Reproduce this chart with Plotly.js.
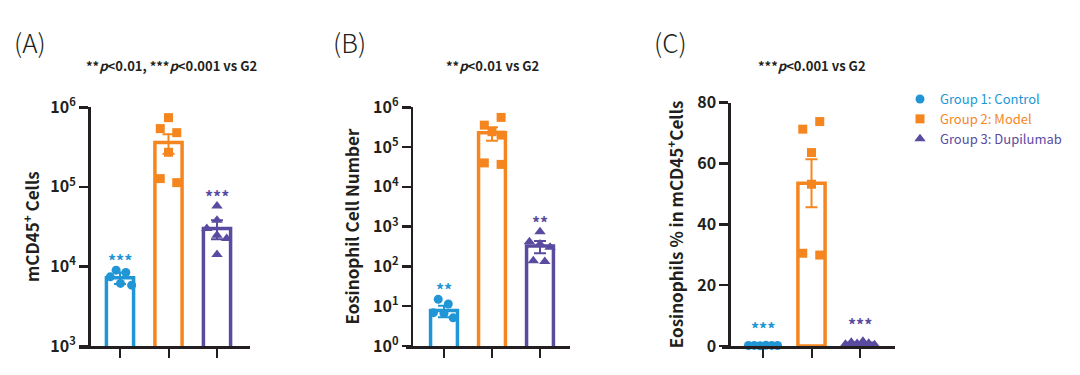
<!DOCTYPE html>
<html>
<head>
<meta charset="utf-8">
<script src="https://cdn.plot.ly/plotly-3.0.1.min.js"></script>
<style>html,body{margin:0;padding:0;background:#fff;}#chart{width:1080px;height:375px;}</style>
</head>
<body>
<div id="chart"></div>
<script>
// ---------- DATA ----------
const groupNames = ['Group 1: Control', 'Group 2: Model', 'Group 3: Dupilumab'];

// (A) mCD45+ cells
const cd45Means = [7200, 360000, 30000];
const cd45Sem   = [1200, 100000, 8000];
const cd45G1 = [8980, 8400, 7400, 6120, 5820];
const cd45G2 = [741000, 540000, 480000, 272000, 127000, 113000];
const cd45G3 = [57500, 38000, 30000, 24700, 22500, 14100];
const cd45Stars = ['***', '', '***'];

// (B) Eosinophil cell number
const eosMeans = [7.8, 229000, 325];
const eosSem   = [2.5, 85000, 110];
const eosG1 = [14.9, 11.4, 6.9, 6.6, 5.1];
const eosG2 = [557000, 356000, 243000, 200000, 40000, 36700];
const eosG3 = [745, 417, 365, 302, 138, 134];
const eosStars = ['**', '', '**'];

// (C) Eosinophils % in mCD45+ cells
const pctMeans = [0.2, 53.5, 0.9];
const pctSem   = [0.05, 7.9, 0.25];
const pctG1 = [0.15, 0.2, 0.1, 0.25, 0.2, 0.15];
const pctG2 = [73.8, 71.3, 63.6, 53.2, 30.5, 29.9];
const pctG3 = [0.6, 1.2, 0.8, 1.6, 0.9, 0.4];
const pctStars = ['***', '', '***'];

const logTickVals = [1, 10, 100, 1000, 10000, 100000, 1000000];
const logTickText = ['10<sup>0</sup>', '10<sup>1</sup>', '10<sup>2</sup>', '10<sup>3</sup>', '10<sup>4</sup>', '10<sup>5</sup>', '10<sup>6</sup>'];

// ---------- STYLE ----------
const W = 1080, H = 375;
const colors = ['#2196d6', '#f5861f', '#5a4ba0'];
const symbols = ['circle', 'square', 'triangle-up'];
const ink = '#231f20';
const FONT = '"Noto Sans CJK SC", "Noto Sans", sans-serif';

// horizontal spread of dots inside each group (layout only)
const jitter = {
  A: [[-0.08, 0.12, -0.2, 0.01, 0.24], [0, -0.17, 0.17, 0, -0.17, 0.17], [0, 0, -0.21, 0, 0.2, 0]],
  B: [[-0.12, 0.09, -0.22, 0, 0.19], [0.19, -0.16, 0, 0.19, -0.16, 0.19], [0, -0.22, 0, 0.21, -0.14, 0.1]],
  C: [[-0.3, -0.18, -0.06, 0.06, 0.18, 0.3], [0.17, -0.18, 0, 0, -0.18, 0.17], [-0.3, -0.18, -0.06, 0.06, 0.18, 0.3]]
};

const panels = [
  { key: 'A', letter: '(A)', title: '**<i>p</i>&lt;0.01, ***<i>p</i>&lt;0.001 vs G2',
    ytitle: 'mCD45<sup>+</sup> Cells', log: true, range: [3, 6],
    means: cd45Means, sem: cd45Sem, pts: [cd45G1, cd45G2, cd45G3], stars: cd45Stars,
    xL: 79.3, xR: 250, yAx: 89, t0: 120, sp: 48.5, yTop: 107.3, yBot: 346,
    letterX: 12, titleX: 171, starShift: 10, standoff: 5 },
  { key: 'B', letter: '(B)', title: '**<i>p</i>&lt;0.01 vs G2',
    ytitle: 'Eosinophil Cell Number', log: true, range: [0, 6],
    means: eosMeans, sem: eosSem, pts: [eosG1, eosG2, eosG3], stars: eosStars,
    xL: 406, xR: 570, yAx: 411.7, t0: 444, sp: 48, yTop: 107.3, yBot: 346,
    letterX: 331, titleX: 492, starShift: 10, standoff: 8 },
  { key: 'C', letter: '(C)', title: '***<i>p</i>&lt;0.001 vs G2',
    ytitle: 'Eosinophils % in mCD45<sup>+</sup>Cells', log: false, range: [0, 80],
    means: pctMeans, sem: pctSem, pts: [pctG1, pctG2, pctG3], stars: pctStars,
    xL: 722, xR: 895, yAx: 729.3, t0: 763, sp: 48.5, yTop: 102.7, yBot: 346,
    letterX: 652, titleX: 812, starShift: 17, standoff: 8 }
];

const traces = [];
const annotations = [];
const layout = {
  width: W, height: H,
  margin: { l: 0, r: 0, t: 0, b: 0 },
  paper_bgcolor: '#fff', plot_bgcolor: 'rgba(0,0,0,0)',
  font: { family: FONT, color: ink },
  showlegend: true,
  legend: { x: 900 / W, y: 1 - 84 / H, xanchor: 'left', yanchor: 'top',
            font: { size: 13, family: FONT }, tracegroupgap: 0, itemwidth: 30,
            bgcolor: 'rgba(0,0,0,0)' },
  annotations: annotations
};

panels.forEach((p, i) => {
  const n = i + 1;
  const xa = 'x' + (n === 1 ? '' : n), ya = 'y' + (n === 1 ? '' : n);
  const xk = 'xaxis' + (n === 1 ? '' : n), yk = 'yaxis' + (n === 1 ? '' : n);

  layout[xk] = {
    domain: [p.xL / W, p.xR / W],
    range: [(p.xL - p.t0) / p.sp, (p.xR - p.t0) / p.sp],
    anchor: ya, showgrid: false, zeroline: false,
    showline: true, linecolor: ink, linewidth: 2.5,
    tickmode: 'array', tickvals: [0, 1, 2], ticktext: ['', '', ''],
    ticks: 'outside', ticklen: 9, tickwidth: 2, tickcolor: ink,
    fixedrange: true
  };
  const yax = {
    domain: [1 - p.yBot / H, 1 - p.yTop / H],
    range: p.range, anchor: 'free', position: p.yAx / W,
    showgrid: false, zeroline: false,
    showline: true, linecolor: ink, linewidth: 2.5,
    ticks: 'outside', ticklen: 9, tickwidth: 2.5, tickcolor: ink,
    tickfont: { size: 16, family: FONT, color: ink, weight: 'bold' },
    title: { text: p.ytitle, font: { size: 17, family: FONT, color: ink, weight: 'bold' }, standoff: p.standoff },
    fixedrange: true
  };
  if (p.log) {
    yax.type = 'log';
    yax.tickmode = 'array';
    yax.tickvals = logTickVals;
    yax.ticktext = logTickText;
  } else {
    yax.type = 'linear';
    yax.tickmode = 'linear'; yax.tick0 = 0; yax.dtick = 20;
  }
  layout[yk] = yax;

  // bars
  for (let g = 0; g < 3; g++) {
    traces.push({
      type: 'bar', x: [g], y: [p.means[g]], width: 0.56,
      xaxis: xa, yaxis: ya, showlegend: false, hoverinfo: 'skip',
      marker: { color: '#ffffff', line: { color: colors[g], width: 3.5 } },
      error_y: { type: 'data', array: [p.sem[g]], arrayminus: [p.sem[g]], visible: true,
                 color: colors[g], thickness: 2, width: 6 }
    });
  }
  // dots
  for (let g = 0; g < 3; g++) {
    const vals = p.pts[g];
    traces.push({
      type: 'scatter', mode: 'markers',
      x: vals.map((v, k) => g + jitter[p.key][g][k]), y: vals,
      xaxis: xa, yaxis: ya,
      name: '<span style="color:' + colors[g] + '">' + groupNames[g] + '</span>',
      legendgroup: 'g' + g, showlegend: i === 0,
      marker: { symbol: symbols[g], color: colors[g], size: g === 2 ? 10 : 9, line: { width: 0 } },
      cliponaxis: false
    });
    if (p.stars[g]) {
      const top = Math.max(Math.max.apply(null, vals), p.means[g] + p.sem[g]);
      annotations.push({
        xref: xa, yref: ya, x: g, y: p.log ? Math.log10(top) : top,
        text: p.stars[g], showarrow: false, yanchor: 'middle', yshift: p.starShift,
        font: { size: 16, family: FONT, color: colors[g], weight: 'bold' }
      });
    }
  }
  // panel letter
  annotations.push({
    xref: 'paper', yref: 'paper', x: p.letterX / W, y: 1 - 42 / H,
    xanchor: 'left', yanchor: 'middle', showarrow: false,
    text: p.letter, font: { size: 26, family: FONT, color: ink, weight: 300 }
  });
  // panel subtitle
  annotations.push({
    xref: 'paper', yref: 'paper', x: p.titleX / W, y: 1 - 65 / H,
    xanchor: 'center', yanchor: 'middle', showarrow: false,
    text: p.title, font: { size: 13, family: FONT, color: ink, weight: 'bold' }
  });
});

Plotly.newPlot('chart', traces, layout, { staticPlot: true, displayModeBar: false });
</script>
</body>
</html>
